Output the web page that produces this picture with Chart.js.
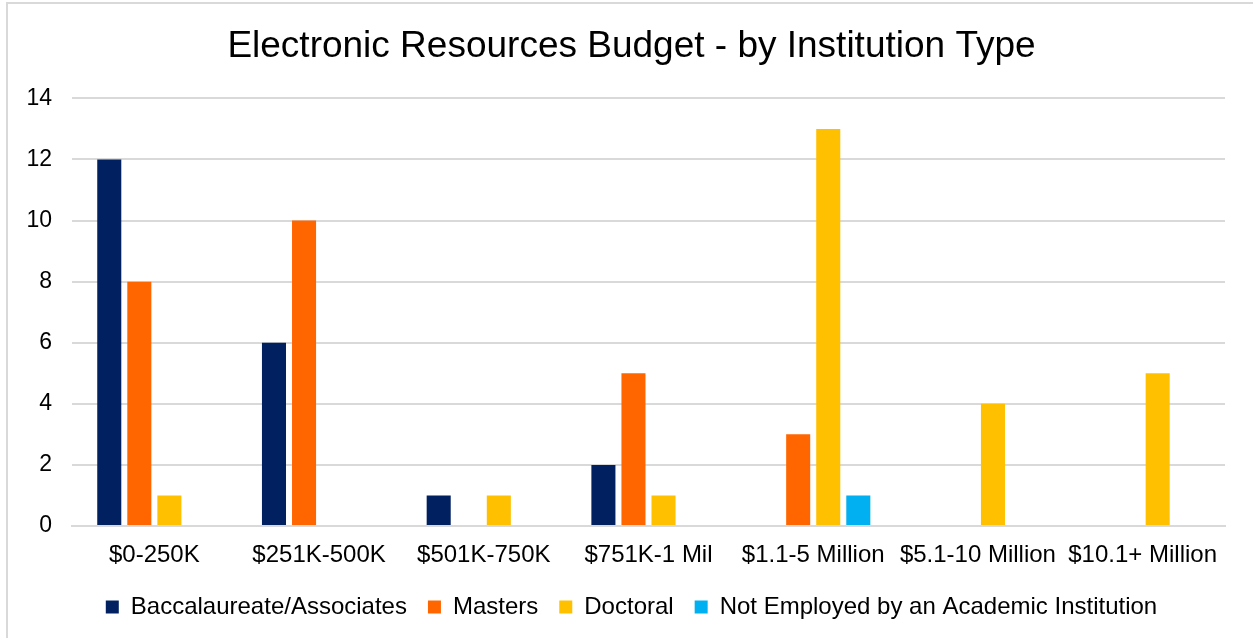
<!DOCTYPE html>
<html>
<head>
<meta charset="utf-8">
<title>Electronic Resources Budget - by Institution Type</title>
<script src="https://cdn.jsdelivr.net/npm/chart.js@4.4.1/dist/chart.umd.min.js"></script>
<style>
  html, body { margin: 0; padding: 0; background: #fff; }
  #wrap { width: 1253px; height: 638px; position: relative; }
</style>
</head>
<body>
<div id="wrap"><canvas id="chart"></canvas></div>
<script>
// budget brackets along the x axis
const budgetRanges = ["$0-250K", "$251K-500K", "$501K-750K", "$751K-1 Mil", "$1.1-5 Million", "$5.1-10 Million", "$10.1+ Million"];

// respondent counts per institution type
const baccalaureate = [12, 6, 1, 2, 0, 0, 0];
const masters = [8, 10, 0, 5, 3, 0, 0];
const doctoral = [1, 0, 1, 1, 13, 4, 5];
const notAcademic = [0, 0, 0, 0, 1, 0, 0];

const yTicks = [0, 2, 4, 6, 8, 10, 12, 14];

const font = "'Liberation Sans', Arial, sans-serif";

// thin grey frame on the left and top edges
const framePlugin = {
  id: "frame",
  beforeDraw(chart) {
    const ctx = chart.ctx;
    ctx.save();
    ctx.strokeStyle = "#d9d9d9";
    ctx.lineWidth = 2;
    ctx.beginPath();
    ctx.moveTo(7, 640);
    ctx.lineTo(7, 3);
    ctx.lineTo(1260, 3);
    ctx.stroke();
    ctx.restore();
  },
};

// title and legend sit centred on the whole frame, a bit right of the plot centre
const shiftPlugin = {
  id: "shiftCentre",
  afterLayout(chart) {
    [chart.titleBlock, chart.legend].forEach((box) => {
      box.left += 15;
      box.right += 15;
    });
  },
};

new Chart(document.getElementById("chart"), {
  type: "bar",
  data: {
    labels: budgetRanges,
    datasets: [
      { label: "Baccalaureate/Associates", data: baccalaureate, backgroundColor: "#002060" },
      { label: "Masters", data: masters, backgroundColor: "#FF6600" },
      { label: "Doctoral", data: doctoral, backgroundColor: "#FFC000" },
      { label: "Not Employed by an Academic Institution", data: notAcademic, backgroundColor: "#00B0F0" },
    ],
  },
  options: {
    responsive: true,
    maintainAspectRatio: false,
    animation: false,
    datasets: {
      bar: { categoryPercentage: 0.73, barPercentage: 0.8, borderWidth: 0 },
    },
    layout: { padding: { left: 8, right: 28, top: 0, bottom: 9 } },
    plugins: {
      title: {
        display: true,
        text: "Electronic Resources Budget - by Institution Type",
        color: "#000",
        font: { family: font, size: 37, weight: "normal" },
        padding: { top: 25, bottom: 29 },
      },
      legend: {
        position: "bottom",
        labels: {
          color: "#000",
          font: { family: font, size: 24 },
          boxWidth: 13,
          boxHeight: 13,
          padding: 21,
        },
      },
      tooltip: { enabled: false },
    },
    scales: {
      x: {
        grid: { display: false },
        border: { color: "#d9d9d9", width: 2 },
        ticks: { color: "#000", font: { family: font, size: 24 }, padding: 7, maxRotation: 0 },
        afterFit(scale) { scale.height = 48; },
      },
      y: {
        min: 0,
        max: 14,
        afterBuildTicks(scale) { scale.ticks = yTicks.map((v) => ({ value: v })); },
        grid: { color: "#d9d9d9", lineWidth: 2, drawTicks: false },
        border: { display: false },
        ticks: { color: "#000", font: { family: font, size: 23 }, padding: 20 },
        afterFit(scale) { scale.width = 64; },
      },
    },
  },
  plugins: [framePlugin, shiftPlugin],
});
</script>
</body>
</html>
